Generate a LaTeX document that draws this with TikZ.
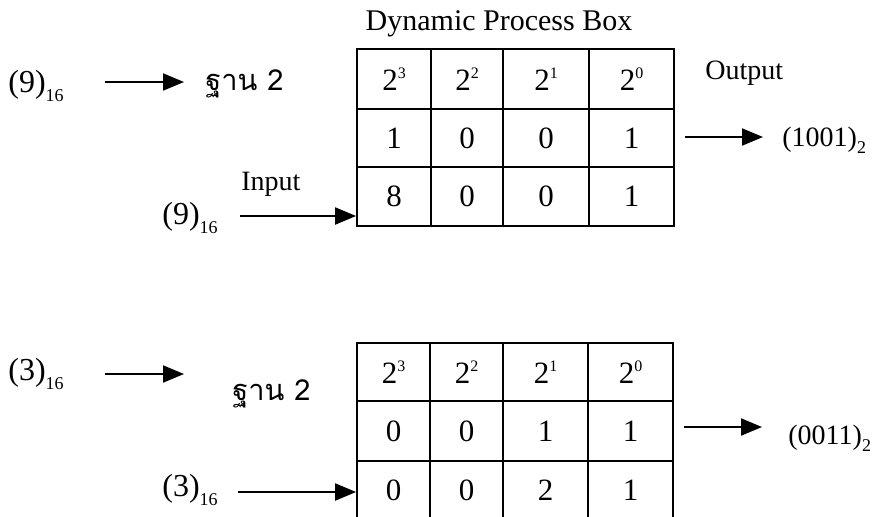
\documentclass[tikz,border=0pt]{standalone}
\usepackage{fontspec}
\setmainfont{Liberation Serif}
\newfontfamily\thaifont[Script=Thai]{Loma}
\usetikzlibrary{arrows.meta}
\newcommand{\mycell}[6]{\node[cell, minimum width={(#3-#2)*0.5pt}, minimum height={(#5-#4)*0.5pt}] (#1) at ({(#2+#3)/2},{(#4+#5)/2}) {#6};}
\newcommand{\sbs}[1]{\raisebox{-0.55ex}{\fontsize{9}{9}\selectfont #1}}
\newcommand{\sps}[1]{\raisebox{0.85ex}{\fontsize{8}{8}\selectfont #1}}
\tikzset{
  cell/.style={draw, line width=0.9pt, inner sep=0pt, font=\fontsize{15.5}{17}\selectfont},
  lbl/.style={inner sep=0pt, font=\fontsize{14}{16}\selectfont},
  hexlbl/.style={inner sep=0pt, font=\fontsize{16}{18}\selectfont},
  thai/.style={inner sep=0pt, font=\fontsize{14.5}{17}\selectfont\thaifont},
  arr/.style={line width=1pt, -{Triangle[length=10.5pt,width=8.5pt]}}
}
\begin{document}
\begin{tikzpicture}[x=0.5pt,y=-0.5pt]
\useasboundingbox (0,0) rectangle (878,516);
\clip (0,0) rectangle (878,516);
% ---------- top ----------
\node[lbl, font=\fontsize{15}{17}\selectfont] (title) at (499,24) {Dynamic Process Box};
\mycell{a11}{357}{431}{49}{109}{2\sps{3}}
\mycell{a12}{431}{503}{49}{109}{2\sps{2}}
\mycell{a13}{503}{589}{49}{109}{2\sps{1}}
\mycell{a14}{589}{674}{49}{109}{2\sps{0}}
\mycell{a21}{357}{431}{109}{167}{1}
\mycell{a22}{431}{503}{109}{167}{0}
\mycell{a23}{503}{589}{109}{167}{0}
\mycell{a24}{589}{674}{109}{167}{1}
\mycell{a31}{357}{431}{167}{226}{8}
\mycell{a32}{431}{503}{167}{226}{0}
\mycell{a33}{503}{589}{167}{226}{0}
\mycell{a34}{589}{674}{167}{226}{1}
\node[hexlbl, anchor=west] (h1) at (8,86) {(9)\sbs{16}};
\coordinate (h1s) at (105,82);
\coordinate (h1e) at (184,82);
\draw[arr] (h1s) -- (h1e);
\node[thai, anchor=west] (b1) at (205,84) {ฐาน 2};
\node[lbl, anchor=west] (in1) at (241,184) {Input};
\node[hexlbl, anchor=west] (h2) at (162,218) {(9)\sbs{16}};
\coordinate (h2s) at (240,216);
\draw[arr] (h2s) -- (a31.west |- h2s);
\node[lbl, anchor=west] (out1) at (705,73) {Output};
\coordinate (o1s) at (685,137);
\coordinate (o1e) at (763,137);
\draw[arr] (o1s) -- (o1e);
\node[lbl, anchor=west] (r1) at (782,140) {(1001)\sbs{2}};
% ---------- bottom ----------
\mycell{c11}{357}{430}{343}{401}{2\sps{3}}
\mycell{c12}{430}{503}{343}{401}{2\sps{2}}
\mycell{c13}{503}{588}{343}{401}{2\sps{1}}
\mycell{c14}{588}{673}{343}{401}{2\sps{0}}
\mycell{c21}{357}{430}{401}{461}{0}
\mycell{c22}{430}{503}{401}{461}{0}
\mycell{c23}{503}{588}{401}{461}{1}
\mycell{c24}{588}{673}{401}{461}{1}
\mycell{c31}{357}{430}{461}{520}{0}
\mycell{c32}{430}{503}{461}{520}{0}
\mycell{c33}{503}{588}{461}{520}{2}
\mycell{c34}{588}{673}{461}{520}{1}
\node[hexlbl, anchor=west] (h3) at (8,374) {(3)\sbs{16}};
\coordinate (h3s) at (105,374);
\coordinate (h3e) at (184,374);
\draw[arr] (h3s) -- (h3e);
\node[thai, anchor=west] (b2) at (232,394) {ฐาน 2};
\node[hexlbl, anchor=west] (h4) at (162,490) {(3)\sbs{16}};
\coordinate (h4s) at (238,492);
\draw[arr] (h4s) -- (c31.west |- h4s);
\coordinate (o2s) at (684,427);
\coordinate (o2e) at (762,427);
\draw[arr] (o2s) -- (o2e);
\node[lbl, anchor=west] (r2) at (788,438) {(0011)\sbs{2}};
\end{tikzpicture}
\end{document}
